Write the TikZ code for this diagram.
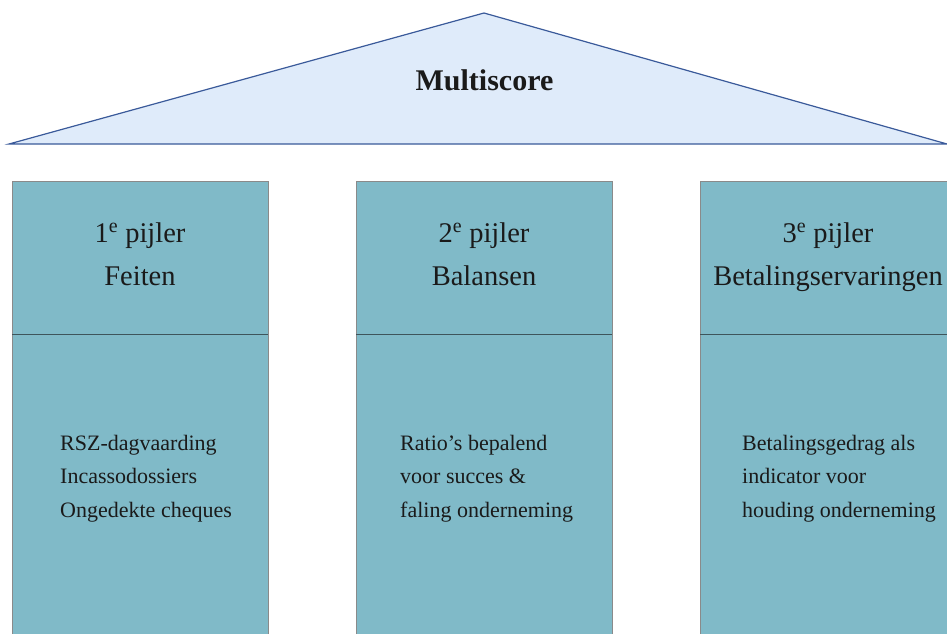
\documentclass[tikz,border=0pt]{standalone}
\usepackage{fontspec}
\setmainfont{Liberation Serif}
\definecolor{rooffill}{HTML}{DFEBFA}
\definecolor{roofline}{HTML}{3A5A9A}
\definecolor{pillarfill}{HTML}{80BAC8}
\definecolor{pillarline}{HTML}{8A8A8A}
\definecolor{divline}{HTML}{3E555B}
\definecolor{txt}{HTML}{1A1A1A}
\begin{document}
\begin{tikzpicture}[x=1pt,y=-1pt,
  roofstyle/.style={fill=rooffill,draw=roofline,line width=1.2pt,line join=miter},
  pillar/.style={rectangle,fill=pillarfill,draw=pillarline,line width=1pt,
     minimum width=256pt,minimum height=470pt,inner sep=0pt,anchor=north west},
  divider/.style={draw=divline,line width=1pt},
  titletext/.style={font=\fontsize{30}{36}\selectfont\bfseries,text=txt,anchor=base,inner sep=0pt},
  headtext/.style={font=\fontsize{28.5}{34}\selectfont,text=txt,anchor=base,inner sep=0pt},
  bodytext/.style={font=\fontsize{22}{27}\selectfont,text=txt,anchor=base west,inner sep=0pt}]
\useasboundingbox (0,0) rectangle (947,634);
\clip (0,0) rectangle (947,634);
% roof
\coordinate (rl) at (9,144);
\coordinate (ra) at (484,13);
\coordinate (rr) at (947,144);
\draw[roofstyle] (rl) -- (ra) -- (rr) -- cycle;
\node[titletext] (title) at (484.5,90) {Multiscore};
% pillars
\node[pillar] (p1) at (12,181) {};
\node[pillar] (p2) at (356,181) {};
\node[pillar] (p3) at (700,181) {};
\foreach \p/\x in {p1/12,p2/356,p3/700}{
  \coordinate (\p dl) at (\x,334);
  \coordinate (\p dr) at (\x+256,334);
  \draw[divider] (\p dl) -- (\p dr);
}
% headers
\node[headtext] (h1a) at (140,242) {1\textsuperscript{e} pijler};
\node[headtext] (h1b) at (140,285) {Feiten};
\node[headtext] (h2a) at (484,242) {2\textsuperscript{e} pijler};
\node[headtext] (h2b) at (484,285) {Balansen};
\node[headtext] (h3a) at (828,242) {3\textsuperscript{e} pijler};
\node[headtext] (h3b) at (828,285) {Betalingservaringen};
% body texts
\node[bodytext] (b1a) at (60,450) {RSZ-dagvaarding};
\node[bodytext] (b1b) at (60,483.5) {Incassodossiers};
\node[bodytext] (b1c) at (60,517) {Ongedekte cheques};
\node[bodytext] (b2a) at (400,450) {Ratio’s bepalend};
\node[bodytext] (b2b) at (400,483.5) {voor succes \&};
\node[bodytext] (b2c) at (400,517) {faling onderneming};
\node[bodytext] (b3a) at (742,450) {Betalingsgedrag als};
\node[bodytext] (b3b) at (742,483.5) {indicator voor};
\node[bodytext] (b3c) at (742,517) {houding onderneming};
\end{tikzpicture}
\end{document}
